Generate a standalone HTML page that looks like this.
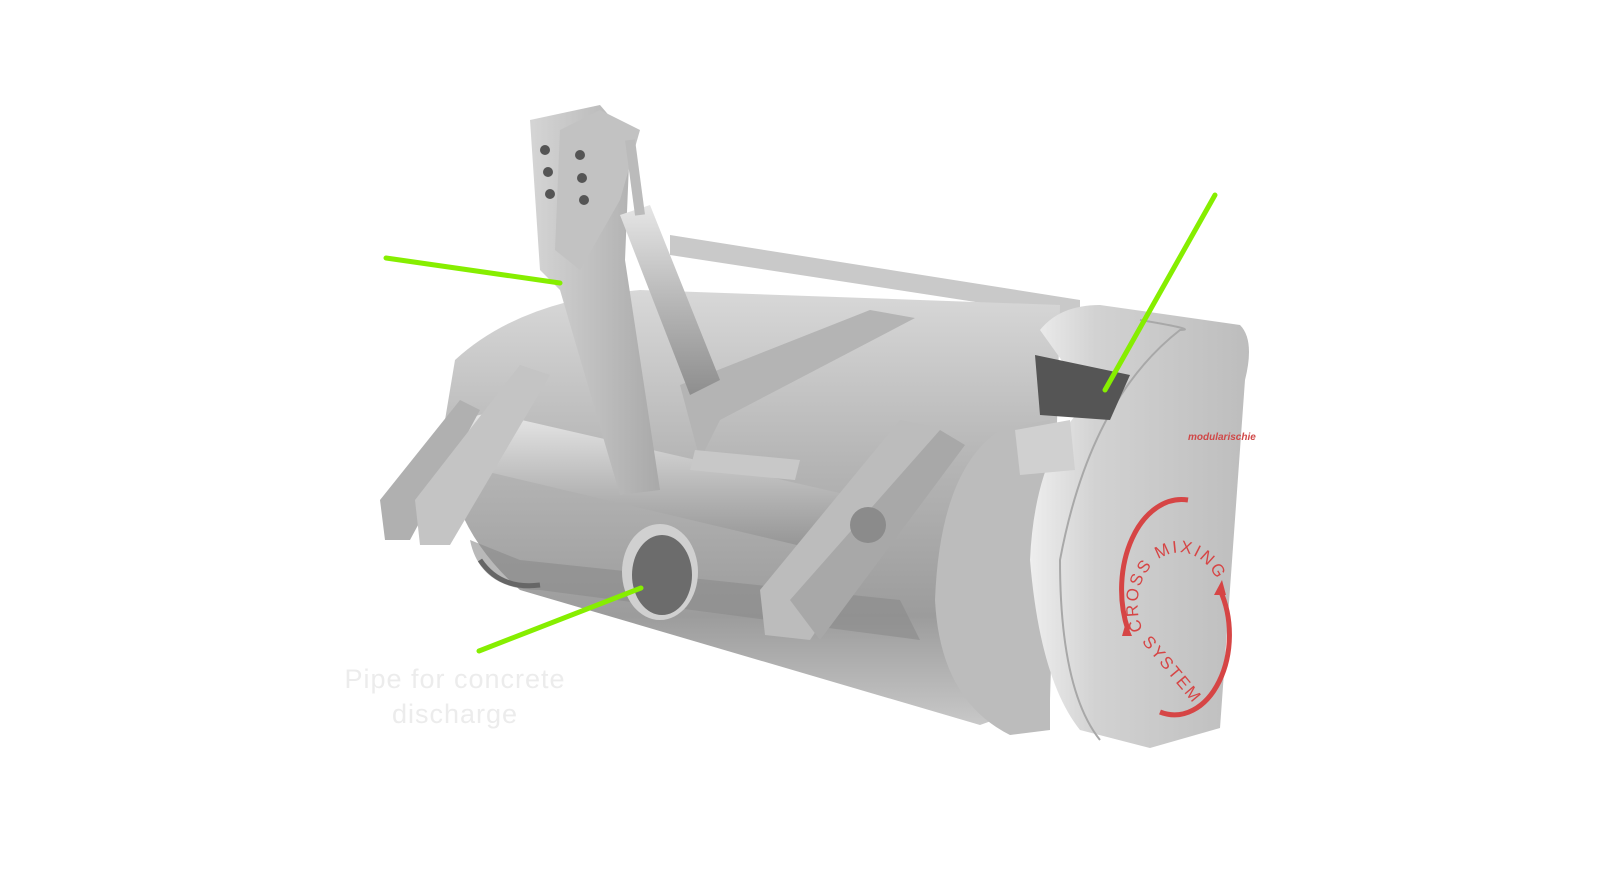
<!DOCTYPE html>
<html><head><meta charset="utf-8"><style>
html,body{margin:0;padding:0;background:#fff;width:1607px;height:891px;overflow:hidden}
svg{display:block}
text{font-family:"Liberation Sans",sans-serif}
</style></head><body>
<svg width="1607" height="891" viewBox="0 0 1607 891" xmlns="http://www.w3.org/2000/svg">
<defs>
<linearGradient id="body" x1="0" y1="0" x2="0" y2="1">
<stop offset="0" stop-color="#d8d8d8"/><stop offset="0.4" stop-color="#b5b5b5"/><stop offset="0.75" stop-color="#9c9c9c"/><stop offset="1" stop-color="#c8c8c8"/></linearGradient>
<linearGradient id="cap" x1="0" y1="0" x2="1" y2="0">
<stop offset="0" stop-color="#eeeeee"/><stop offset="0.3" stop-color="#d2d2d2"/><stop offset="1" stop-color="#bdbdbd"/></linearGradient>
<linearGradient id="arm" x1="0" y1="0" x2="1" y2="0">
<stop offset="0" stop-color="#d5d5d5"/><stop offset="1" stop-color="#a9a9a9"/></linearGradient>
<linearGradient id="tube" x1="0" y1="0" x2="0" y2="1">
<stop offset="0" stop-color="#e6e6e6"/><stop offset="0.5" stop-color="#b8b8b8"/><stop offset="1" stop-color="#8e8e8e"/></linearGradient>
<path id="circ" d="M1143,630 A42,52 0 1,1 1200,650"/>
</defs>
<polygon points="670,235 1080,300 1080,318 670,255" fill="#c9c9c9"/>
<path d="M455,360 Q520,300 640,290 L1060,305 L1050,700 L980,725 L520,590 Q440,520 445,420 Z" fill="url(#body)"/>
<path d="M470,540 Q480,590 540,590 L920,640 L900,600 L520,560 Z" fill="#8a8a8a" opacity="0.6"/>
<path d="M460,430 Q470,410 500,415 L870,500 L860,560 L480,470 Q455,460 460,430 Z" fill="url(#tube)"/>
<polygon points="380,500 460,400 480,410 410,540 385,540" fill="#b0b0b0"/>
<polygon points="415,500 520,365 550,375 450,545 420,545" fill="#c4c4c4"/>
<polygon points="760,590 900,420 950,430 810,640 765,635" fill="#bcbcbc"/>
<polygon points="790,600 940,430 965,445 820,640" fill="#a8a8a8"/>
<circle cx="868" cy="525" r="18" fill="#8b8b8b"/>
<polygon points="680,385 870,310 915,318 720,420 700,460" fill="#b4b4b4"/>
<polygon points="530,120 600,105 630,140 625,260 660,490 620,495 560,290 540,270" fill="url(#arm)"/>
<polygon points="560,130 600,110 640,130 620,200 580,270 555,250" fill="#c2c2c2"/>
<circle cx="545" cy="150" r="5" fill="#555"/><circle cx="548" cy="172" r="5" fill="#555"/><circle cx="550" cy="194" r="5" fill="#555"/>
<circle cx="580" cy="155" r="5" fill="#555"/><circle cx="582" cy="178" r="5" fill="#555"/><circle cx="584" cy="200" r="5" fill="#555"/>
<polygon points="620,215 650,205 720,380 690,395" fill="url(#tube)"/>
<line x1="630" y1="140" x2="640" y2="215" stroke="#bbb" stroke-width="10"/>
<polygon points="695,450 800,460 795,480 690,470" fill="#c8c8c8"/>
<ellipse cx="660" cy="572" rx="38" ry="48" fill="#d0d0d0"/>
<ellipse cx="662" cy="575" rx="30" ry="40" fill="#6c6c6c"/>
<path d="M480,560 Q500,590 540,585" stroke="#666" stroke-width="5" fill="none"/>
<path d="M1000,430 Q940,470 935,600 Q940,700 1010,735 L1050,730 L1050,420 Z" fill="#bcbcbc"/>
<path d="M1040,330 Q1060,305 1100,305 L1240,325 Q1255,340 1245,380 L1220,728 L1150,748 L1080,730 Q1040,680 1030,560 Q1035,450 1090,400 Z" fill="url(#cap)"/>
<path d="M1140,320 Q1200,330 1180,330 Q1090,400 1060,560 Q1060,690 1100,740" fill="none" stroke="#a8a8a8" stroke-width="2"/>
<polygon points="1035,355 1130,375 1110,420 1040,415" fill="#555"/>
<polygon points="1015,430 1070,420 1075,470 1020,475" fill="#d0d0d0"/>
<text x="1188" y="440" font-size="10" font-weight="bold" font-style="italic" fill="#d04848">modularischie</text>
<g fill="none" stroke="#d64545" stroke-width="5">
<path d="M1188,500 A60,90 0 0,0 1128,630"/>
<path d="M1220,590 A55,80 0 0,1 1160,712"/>
</g>
<polygon points="1122,636 1132,636 1126,622" fill="#d64545"/>
<polygon points="1214,595 1226,595 1222,580" fill="#d64545"/>
<text font-size="17" fill="#d64545" letter-spacing="2"><textPath href="#circ">CROSS MIXING</textPath></text>
<text font-size="17" fill="#d64545" letter-spacing="2" transform="rotate(50 1155 650)" x="1140" y="655">SYSTEM</text>
<g stroke="#86ee00" stroke-width="5" stroke-linecap="round">
<line x1="386" y1="258" x2="560" y2="283"/>
<line x1="1215" y1="195" x2="1105" y2="390"/>
<line x1="479" y1="651" x2="641" y2="588"/>
</g>
<text x="455" y="688" font-size="27" fill="#ececec" text-anchor="middle" letter-spacing="1">Pipe for concrete</text>
<text x="455" y="723" font-size="27" fill="#ececec" text-anchor="middle" letter-spacing="1">discharge</text>
</svg>
</body></html>
